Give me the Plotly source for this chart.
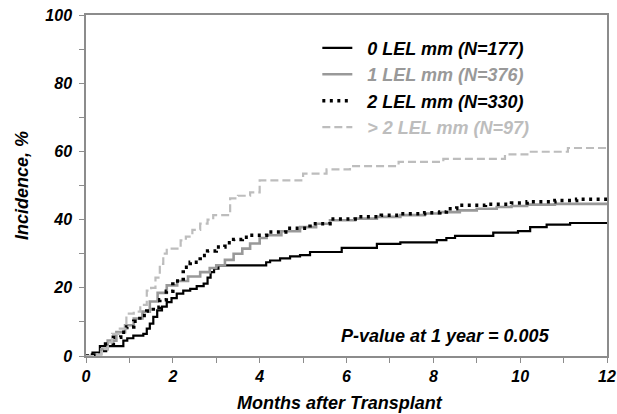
import plotly.graph_objects as go

# ---- data ----
lel0_months = [0, 0.15, 0.32, 0.86, 0.95, 1.09, 1.32, 1.4, 1.47, 1.55, 1.64, 1.75, 1.86, 1.97, 2.09, 2.24, 2.4, 2.55, 2.71, 2.8, 2.87, 2.95, 3.05,
               4.15, 4.24, 4.47, 4.7, 4.93, 5.16, 5.89, 6.7, 7.24, 8.08, 8.3, 8.5, 9.38, 9.95, 10.23, 10.61, 11.15, 12]
lel0_inc = [0, 1.0, 2.9, 4.5, 5.2, 6.0, 6.5, 8.0, 9.5, 11.5, 13.4, 14.5, 15.8, 17.0, 18.3, 19.2, 19.7, 20.5, 21.2, 23.0, 24.6, 25.6, 26.6,
            27.5, 28.0, 28.6, 29.2, 29.6, 30.5, 31.7, 32.9, 33.3, 34.0, 34.6, 35.2, 36.2, 36.6, 37.8, 38.5, 39.0, 39.0]

lel1_months = [0, 0.2, 0.35, 0.5, 0.7, 0.9, 1.1, 1.3, 1.47, 1.65, 1.86, 2.1, 2.35, 2.63, 2.85, 3.0, 3.2, 3.4, 3.6, 3.78, 4.0, 4.16,
               4.5, 4.93, 5.3, 5.62, 6.2, 6.7, 7.24, 7.8, 8.15, 8.61, 9.0, 9.46, 9.8, 10.16, 10.8, 12]
lel1_inc = [0, 0.5, 2.0, 4.5, 7.0, 9.0, 11.0, 13.0, 16.0, 18.5, 20.7, 22.0, 23.3, 24.6, 25.8, 26.6, 28.2, 30.0, 31.5, 33.0, 34.6, 35.4,
            36.6, 37.8, 38.8, 39.8, 40.3, 40.8, 41.3, 41.8, 42.2, 42.7, 43.2, 43.7, 44.0, 44.4, 44.6, 44.7]

lel2_months = [0, 0.15, 0.32, 0.45, 0.63, 0.8, 0.94, 1.1, 1.24, 1.4, 1.55, 1.7, 1.85, 2.0, 2.24, 2.4, 2.63, 2.8, 3.0, 3.2, 3.4, 3.6, 3.78,
               4.16, 4.6, 5.16, 5.62, 6.2, 6.8, 7.24, 7.8, 8.15, 8.3, 8.54, 9.2, 9.8, 10.16, 10.8, 11.3, 12]
lel2_inc = [0, 0.3, 1.6, 3.5, 5.5, 7.0, 8.5, 10.2, 11.9, 13.2, 14.3, 16.5, 19.0, 22.0, 26.0, 27.5, 29.5, 30.8, 32.0, 33.2, 34.2, 34.8, 35.4,
            36.4, 37.5, 38.8, 40.2, 40.8, 41.3, 41.7, 42.0, 42.2, 43.2, 44.2, 44.5, 44.9, 45.2, 45.6, 46.0, 46.0]

lel3_months = [0, 0.2, 0.35, 0.5, 0.6, 0.75, 0.93, 1.1, 1.25, 1.4, 1.5, 1.6, 1.7, 1.78, 1.86, 2.18, 2.3, 2.45, 2.63, 2.8, 2.93, 3.1, 3.32,
               3.5, 3.78, 4.0, 5.0, 5.54, 6.08, 7.2, 8.23, 9.65, 10.2, 11.1, 12]
lel3_inc = [0, 0.5, 2.0, 4.0, 6.5, 8.0, 12.4, 13.0, 15.0, 19.2, 20.0, 23.0, 27.0, 30.0, 31.5, 33.9, 35.0, 37.0, 38.8, 40.0, 41.3, 41.3, 46.2,
            47.0, 48.0, 51.5, 53.5, 54.7, 55.7, 56.9, 57.8, 59.1, 59.9, 61.0, 61.0]

series_names = ["0 LEL mm (N=177)", "1 LEL mm (N=376)", "2 LEL mm (N=330)", "> 2 LEL mm (N=97)"]
x_ticks = [0, 2, 4, 6, 8, 10, 12]
y_ticks = [0, 20, 40, 60, 80, 100]

FONT = "Liberation Sans, Arial, sans-serif"
GRAY = "#999999"
LIGHT = "#bdbdbd"
AXC = "#8c8c8c"

def lbl(text, color):
    return '&nbsp;&nbsp;<span style="color:%s">%s</span>' % (color, text.replace(">", "&gt;"))

fig = go.Figure()
styles = [
    (lel0_months, lel0_inc, dict(color="black", width=2.2), "black"),
    (lel1_months, lel1_inc, dict(color=GRAY, width=2.6), GRAY),
    (lel2_months, lel2_inc, dict(color="black", width=3.5, dash="3px,4.5px"), "black"),
    (lel3_months, lel3_inc, dict(color=LIGHT, width=2.2, dash="8px,4px"), LIGHT),
]
for i, (xs, ys, line, tcol) in enumerate(styles):
    fig.add_trace(go.Scatter(x=xs, y=ys, mode="lines", line=dict(shape="hv", **line),
                             name=lbl(series_names[i], tcol)))

fig.add_annotation(x=8.27, y=6, xref="x", yref="y", text="<b><i>P-value at 1 year = 0.005</i></b>",
                   showarrow=False, font=dict(family=FONT, size=18, color="black"))
# x-axis title (slightly left of the plot centre, as in the reference)
fig.add_annotation(x=0.4875, y=-0.1366, xref="paper", yref="paper", yanchor="middle",
                   text="<b><i>Months after Transplant</i></b>", showarrow=False,
                   font=dict(family=FONT, size=18, color="black"))

axis_common = dict(showline=True, linecolor=AXC, linewidth=1.5, mirror=True, ticks="outside",
                   ticklen=5, tickcolor=AXC, tickwidth=1, showgrid=False, zeroline=False, automargin=False,
                   tickfont=dict(family=FONT, size=16, color="black"))

fig.update_xaxes(range=[0, 12], tickvals=x_ticks, ticktext=["<b><i>%d</i></b>" % v for v in x_ticks],
                 minor=dict(dtick=1, ticks="outside", ticklen=5, tickcolor=AXC),
                 **axis_common)
fig.update_yaxes(range=[0, 100], tickvals=y_ticks, ticktext=["<b><i>%d</i></b>" % v for v in y_ticks],
                 minor=dict(dtick=10, ticks="outside", ticklen=5, tickcolor=AXC),
                 ticklabelstandoff=4,
                 title=dict(text="<b><i>Incidence, %</i></b>", font=dict(family=FONT, size=18, color="black"), standoff=12),
                 **axis_common)

fig.update_layout(
    width=617, height=414,
    margin=dict(l=86, r=10, t=15, b=58),
    paper_bgcolor="white", plot_bgcolor="white",
    legend=dict(x=0.444, y=0.957, xanchor="left", yanchor="top", bgcolor="rgba(0,0,0,0)",
                font=dict(family=FONT, size=18, color="black", weight="bold", style="italic"),
                itemwidth=30),
    showlegend=True,
)

fig.write_html("out.html", config={"displayModeBar": False},
               post_script="document.body.style.margin='0';document.body.style.overflow='hidden';")
